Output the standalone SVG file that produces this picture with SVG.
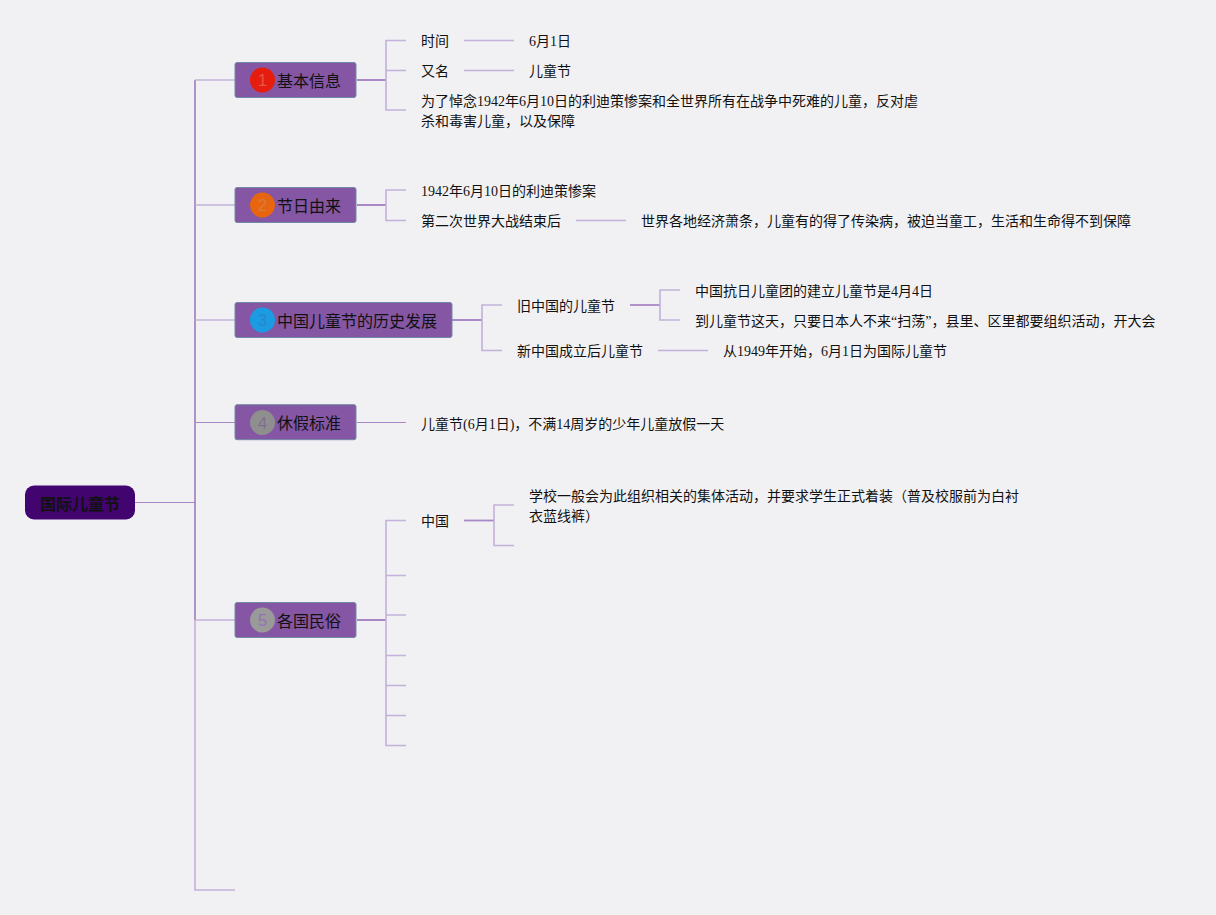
<svg xmlns="http://www.w3.org/2000/svg" width="1216" height="915" viewBox="0 0 1216 915">
<style>
text{font-family:"Liberation Serif","Noto Sans CJK SC",serif;font-size:14px;fill:#111}
.t{font-family:"Liberation Serif","Noto Sans CJK SC",serif;font-size:16px;fill:#111}
.n{font-family:"Liberation Sans",sans-serif;font-size:17px;text-anchor:middle}
.b{fill:#8556a3;stroke:#6f8aa3;stroke-width:1}
.c{fill:none;stroke:#c3b1d9;stroke-width:1.6}
.d{fill:none;stroke:#a888c6;stroke-width:1.8}
.e{fill:none;stroke:#a888c6;stroke-width:1}
</style>
<rect width="1216" height="915" fill="#f1f1f4"/>
<g id="connectors">
<path class="e" d="M135 502.500H195"/>
<path class="d" d="M195 80V620"/>
<path class="c" d="M195 620V890H235M195 80H235M195 205H235M195 320H235M195 620H235"/>
<path class="e" d="M195 422.500H235M357 422.500H406"/>
<path class="d" d="M357 80H386M357 205H386M452 320H482M357 620H386"/>
<path class="c" d="M406 40.500H386V110H406M386 70.500H406"/>
<path class="c" d="M464 40.500H514M464 70.500H514"/>
<path class="c" d="M406 190H386V220.500H406"/>
<path class="c" d="M576 220.500H626"/>
<path class="c" d="M502 305H482V350.500H502"/>
<path class="d" d="M630 305H660"/>
<path class="c" d="M680 290H660V320H680"/>
<path class="c" d="M658 350.500H708"/>
<path class="d" d="M464 520.500H494"/>
<path class="c" d="M514 505H494V545.500H514"/>
<path class="c" d="M406 520.500H386V745.500H406M386 575.500H406M386 615H406M386 655.500H406M386 685.500H406M386 715.500H406"/>
</g>
<g id="root"><rect x="25" y="485.500" width="110" height="34" rx="9" fill="#42046f"/><text x="80" y="510" text-anchor="middle" style="font-size:16px;font-weight:700">国际儿童节</text></g>
<g id="n1"><rect class="b" x="235" y="62.500" width="121" height="35" rx="2"/><circle cx="262.500" cy="80" r="12.500" fill="#e61c0c"/><text class="n" x="262.500" y="86" style="fill:#e5554a">1</text><text class="t" x="277" y="87">基本信息</text></g>
<g id="n2"><rect class="b" x="235" y="187.500" width="121" height="35" rx="2"/><circle cx="262.500" cy="205" r="12.500" fill="#e8650f"/><text class="n" x="262.500" y="211" style="fill:#d97b3b">2</text><text class="t" x="277" y="212">节日由来</text></g>
<g id="n3"><rect class="b" x="235" y="302.500" width="217" height="35" rx="2"/><circle cx="262.500" cy="320" r="12.500" fill="#1a9be2"/><text class="n" x="262.500" y="326" style="fill:#2a86cb">3</text><text class="t" x="277" y="327">中国儿童节的历史发展</text></g>
<g id="n4"><rect class="b" x="235" y="404.700" width="121" height="35" rx="2"/><circle cx="262.500" cy="422.500" r="12.500" fill="#8f8f8f"/><text class="n" x="262.500" y="428.500" style="fill:#7f6f8f">4</text><text class="t" x="277" y="429">休假标准</text></g>
<g id="n5"><rect class="b" x="235" y="602.500" width="121" height="35" rx="2"/><circle cx="262.500" cy="620" r="12.500" fill="#9a9a9a"/><text class="n" x="262.500" y="626" style="fill:#9572b5">5</text><text class="t" x="277" y="627">各国民俗</text></g>
<g id="labels">
<text x="421" y="46">时间</text>
<text x="529" y="46">6月1日</text>
<text x="421" y="76">又名</text>
<text x="529" y="76">儿童节</text>
<text x="421" y="106">为了悼念1942年6月10日的利迪策惨案和全世界所有在战争中死难的儿童，反对虐</text>
<text x="421" y="126">杀和毒害儿童，以及保障</text>
<text x="421" y="196">1942年6月10日的利迪策惨案</text>
<text x="421" y="226">第二次世界大战结束后</text>
<text x="641" y="226">世界各地经济萧条，儿童有的得了传染病，被迫当童工，生活和生命得不到保障</text>
<text x="517" y="311">旧中国的儿童节</text>
<text x="695" y="296">中国抗日儿童团的建立儿童节是4月4日</text>
<text x="695" y="326">到儿童节这天，只要日本人不来“扫荡”，县里、区里都要组织活动，开大会</text>
<text x="517" y="356">新中国成立后儿童节</text>
<text x="723" y="356">从1949年开始，6月1日为国际儿童节</text>
<text x="421" y="429">儿童节(6月1日)，不满14周岁的少年儿童放假一天</text>
<text x="421" y="526">中国</text>
<text x="529" y="501">学校一般会为此组织相关的集体活动，并要求学生正式着装（普及校服前为白衬</text>
<text x="529" y="521">衣蓝线裤）</text>
</g>
</svg>
